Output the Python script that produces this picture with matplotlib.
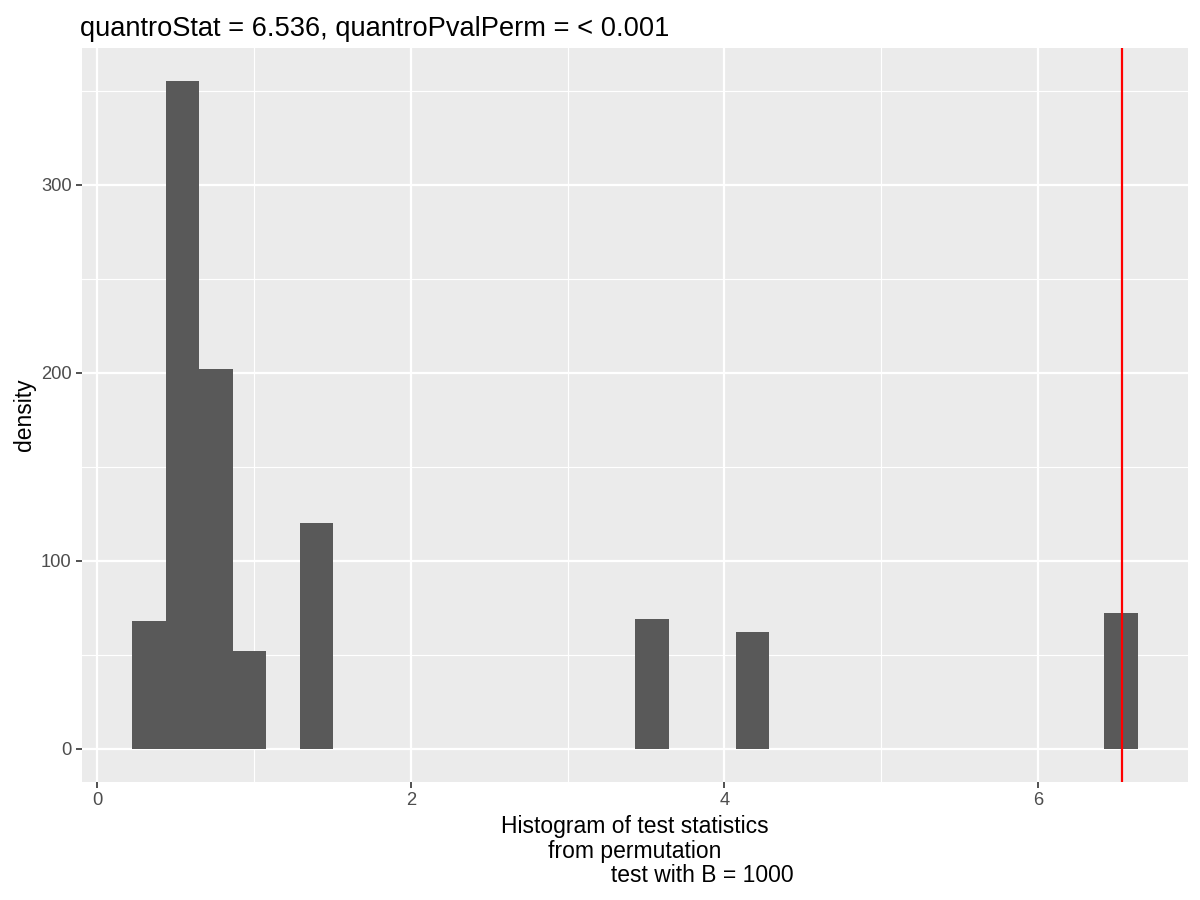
import numpy as np
import matplotlib.pyplot as plt
from matplotlib.ticker import MultipleLocator

plt.rcParams['font.family'] = ['Liberation Sans', 'DejaVu Sans']

# histogram of permutation test statistics (30 bins, ggplot-style)
bin_start = 0.2229
bin_width = 0.2138
bin_index = [0, 1, 2, 3, 5, 15, 18, 29]
counts = [68, 355, 202, 52, 120, 69, 62, 72]
quantro_stat = 6.536
title = "quantroStat = 6.536, quantroPvalPerm = < 0.001"
xlabel = "Histogram of test statistics\nfrom permutation\n                     test with B = 1000"

S = 1.5  # ggplot pt -> px scale at this size

fig = plt.figure(figsize=(12, 9), dpi=100)
ax = fig.add_axes([82/1200, 1 - 782/900, (1188 - 82)/1200, (782 - 48)/900])
ax.set_facecolor('#EBEBEB')

lefts = bin_start + np.array(bin_index) * bin_width
ax.bar(lefts, counts, width=bin_width, align='edge', color='#595959', zorder=2, linewidth=0)
ax.axvline(quantro_stat, color='red', lw=1.6, zorder=3)

x_lo, x_hi = bin_start, bin_start + 30 * bin_width
xr = x_hi - x_lo
ax.set_xlim(x_lo - 0.05 * xr, x_hi + 0.05 * xr)
ymax = max(counts)
ax.set_ylim(-0.05 * ymax, ymax * 1.05)

ax.xaxis.set_major_locator(MultipleLocator(2))
ax.xaxis.set_minor_locator(MultipleLocator(1))
ax.yaxis.set_major_locator(MultipleLocator(100))
ax.yaxis.set_minor_locator(MultipleLocator(50))
ax.grid(which='major', color='white', lw=1.6, zorder=1)
ax.grid(which='minor', color='white', lw=0.8, zorder=1)
ax.set_axisbelow(True)
for s in ax.spines.values():
    s.set_visible(False)
ax.tick_params(which='major', length=2.75 * S, width=0.8 * S, color='#333333',
               labelcolor='#4D4D4D', labelsize=8.8 * S, pad=2.2 * S)
ax.tick_params(which='minor', length=0)

ax.set_ylabel('density', fontsize=11 * S, labelpad=4)
ax.set_xlabel(xlabel, fontsize=11 * S, labelpad=4, linespacing=1.1)
ax.set_title(title, fontsize=13.2 * S * 0.99, loc='left', pad=9, x=-0.002)

fig.savefig('out.png', dpi=100)
